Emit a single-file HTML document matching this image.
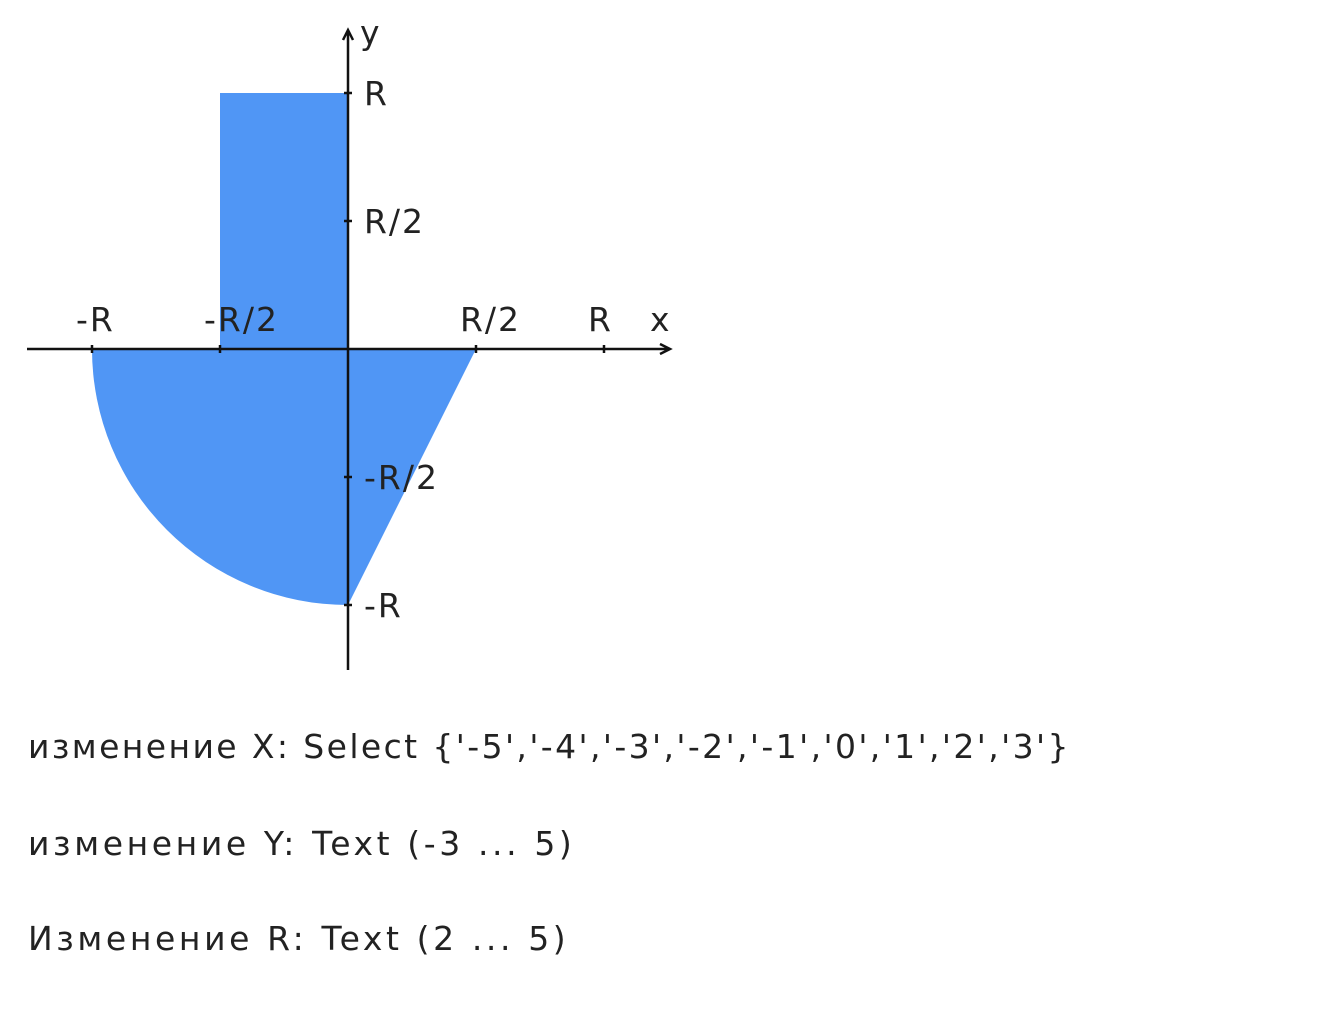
<!DOCTYPE html>
<html><head><meta charset="utf-8"><style>
body{margin:0;width:1328px;height:1010px;background:#fff;overflow:hidden;font-family:"DejaVu Sans","Liberation Sans",sans-serif;}
svg{position:absolute;left:0;top:0}
.t{position:absolute;left:28px;font-size:33px;color:#222;white-space:nowrap;letter-spacing:3.6px}
</style></head><body>
<svg width="700" height="690">
<g id="shapes"></g>
<g id="axes" stroke="#111" stroke-width="2.5" fill="none"></g>
<g id="labels" font-family="DejaVu Sans, Liberation Sans, sans-serif" font-size="33" fill="#222" letter-spacing="2"></g>
</svg>
<div class="t" style="top:727px;letter-spacing:2.4px">изменение X: Select {'-5','-4','-3','-2','-1','0','1','2','3'}</div>
<div class="t" style="top:824px">изменение Y: Text (-3 ... 5)</div>
<div class="t" style="top:919px">Изменение R: Text (2 ... 5)</div>
<script>
const ox=348, oy=349, R=256;
const xTicks=[-1,-0.5,0.5,1];
const xTickLabels=['-R','-R/2','R/2','R'];
const yTicks=[1,0.5,-0.5,-1];
const yTickLabels=['R','R/2','-R/2','-R'];
const rectArea=[-0.5,0,0,1];
const triArea=[[0,0],[0.5,0],[0,-1]];
const circleRadius=[1];
const sx=v=>ox+v*R, sy=v=>oy-v*R;
const NS='http://www.w3.org/2000/svg';
const mk=(p,t,a)=>{const e=document.createElementNS(NS,t);for(const k in a)e.setAttribute(k,a[k]);p.appendChild(e);return e;};
const S=document.getElementById('shapes'),A=document.getElementById('axes'),L=document.getElementById('labels');
const col='#5096f5';
let r=mk(S,'rect',{x:sx(rectArea[0]),y:sy(rectArea[3]),width:sx(rectArea[2])-sx(rectArea[0]),height:sy(rectArea[1])-sy(rectArea[3]),fill:col});


const cr=circleRadius[0]*R;
let c=mk(S,'path',{d:`M${ox},${oy} L${ox-cr},${oy} A${cr},${cr} 0 0 0 ${ox},${oy+cr} Z`,fill:col});


let tr=mk(S,'polygon',{points:triArea.map(p=>sx(p[0])+','+sy(p[1])).join(' '),fill:col});


let xa=mk(A,'path',{d:`M27,${oy} H670 M660,${oy-5} L670,${oy} L660,${oy+5}`});


let ya=mk(A,'path',{d:`M${ox},670 V30 M${ox-5},40 L${ox},30 L${ox+5},40`});


xTicks.forEach((v,i)=>{
 mk(A,'line',{x1:sx(v),x2:sx(v),y1:oy-4,y2:oy+4});
 const t=mk(L,'text',{x:sx(v)-16,y:331});t.textContent=xTickLabels[i];
 
 
});
yTicks.forEach((v,i)=>{
 mk(A,'line',{x1:ox-4,x2:ox+4,y1:sy(v),y2:sy(v)});
 const t=mk(L,'text',{x:364,y:sy(v)+12});t.textContent=yTickLabels[i];
 
 
});
let xl=mk(L,'text',{x:650,y:331});xl.textContent='x';


let yl=mk(L,'text',{x:360,y:44});yl.textContent='y';


</script>
</body></html>
